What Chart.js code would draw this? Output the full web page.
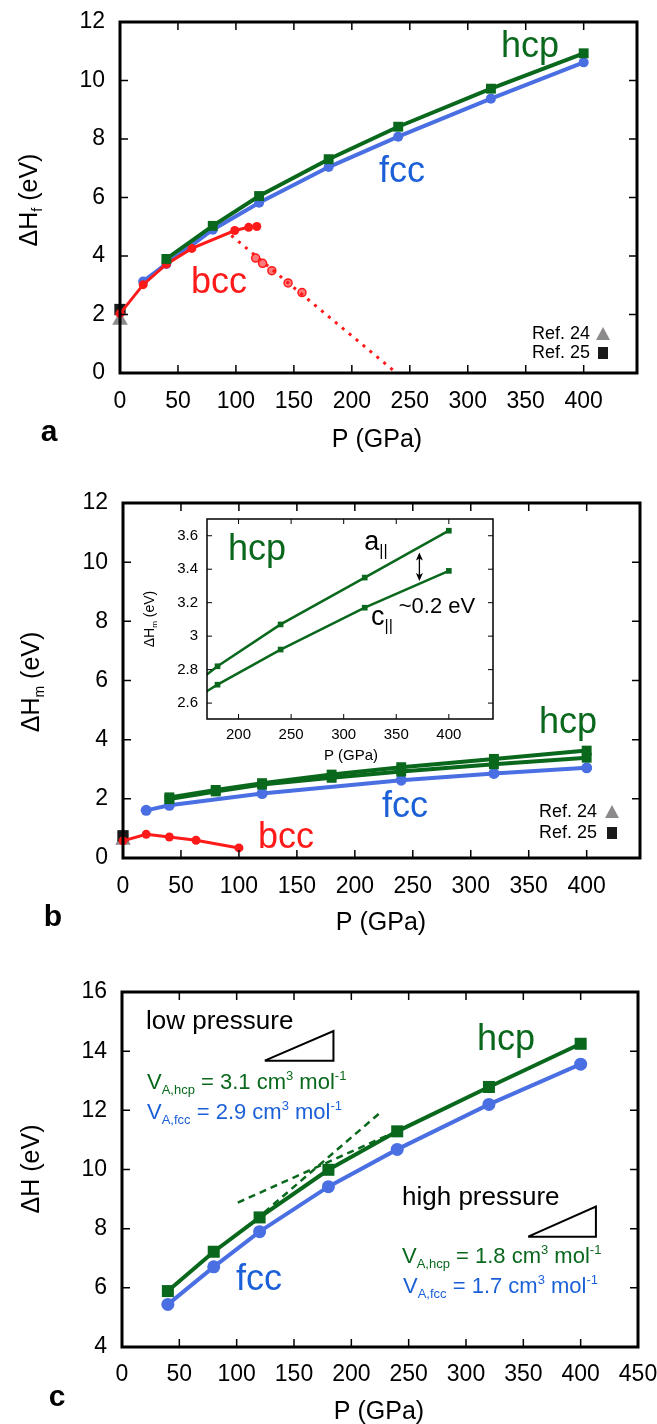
<!DOCTYPE html>
<html lang="en">
<head>
<meta charset="UTF-8" />
<title>Vacancy formation and migration enthalpies</title>
<script src="https://cdn.jsdelivr.net/npm/chart.js@4.4.0/dist/chart.umd.min.js"></script>
<style>
  body { margin: 0; background: #fff; }
  canvas { position: absolute; }
</style>
</head>
<body>
<canvas id="chartA" width="657" height="470" style="left:0;top:0"></canvas>
<canvas id="chartB" width="657" height="490" style="left:0;top:470px"></canvas>
<canvas id="chartInset" width="360" height="265" style="left:140px;top:505px"></canvas>
<canvas id="chartC" width="657" height="464" style="left:0;top:960px"></canvas>

<script>
// ---- panel a : formation enthalpy dH_f (eV) vs P (GPa)
const pA_hcp = [40, 80, 120, 180, 240, 320, 400];
const hfHcp = [3.9, 5.03, 6.05, 7.31, 8.42, 9.72, 10.93];
const pA_fcc = [20, 40, 80, 120, 180, 240, 320, 400];
const hfFcc = [3.13, 3.73, 4.9, 5.82, 7.04, 8.08, 9.38, 10.62];
const pA_bcc = [0, 20, 40, 62, 99, 111, 118];
const hfBcc = [2.03, 3.02, 3.72, 4.26, 4.87, 4.98, 5.01];
const pA_bccOpen = [117, 123, 131, 145, 157];
const hfBccOpen = [3.93, 3.75, 3.5, 3.08, 2.75];
const pA_bccTrend = [96, 237];
const hfBccTrend = [4.7, 0.05];
const hfRef24 = [1.8];
const hfRef25 = [2.17];

// ---- panel b : migration enthalpy dH_m (eV)
const pB_hcp = [40, 80, 120, 180, 240, 320, 400];
const hmHcpA = [2.05, 2.3, 2.53, 2.82, 3.07, 3.35, 3.63];
const hmHcpC = [1.99, 2.25, 2.48, 2.71, 2.92, 3.17, 3.39];
const pB_fcc = [20, 40, 120, 240, 320, 400];
const hmFcc = [1.61, 1.78, 2.18, 2.63, 2.86, 3.05];
const pB_bcc = [0, 20, 40, 63, 100];
const hmBcc = [0.58, 0.8, 0.71, 0.6, 0.34];
const hmRef24 = [0.6];
const hmRef25 = [0.75];
const arrowP = 372;
const arrowH = [3.33, 3.5];

// ---- panel c : activation enthalpy dH (eV)
const pC = [40, 80, 120, 180, 240, 320, 400];
const hHcp = [5.89, 7.22, 8.38, 9.99, 11.29, 12.79, 14.25];
const hFcc = [5.44, 6.71, 7.9, 9.42, 10.68, 12.2, 13.56];
const tanHighP = [101, 240];
const tanHighH = [8.88, 11.3];
const tanLowP = [124, 226];
const tanLowH = [8.55, 11.95];
const triLowP = [124.5, 184.4, 184.4, 124.5];
const triLowH = [13.68, 13.68, 14.68, 13.68];
const triHighP = [354.2, 413.3, 413.3, 354.2];
const triHighH = [7.73, 7.73, 8.75, 7.73];

const FONT = '"Liberation Sans", Arial, Helvetica, sans-serif';
const GREEN = '#0a681d';
const BLUE = '#4a6fe3';
const BLUE_TXT = '#1c60d8';
const RED = '#ff1a1a';
const GRAY = '#8c8a8a';

const pts = (xs, ys) => xs.map((x, i) => ({ x: x, y: ys[i] }));

function setFont(ctx, size, bold) {
  ctx.font = (bold ? 'bold ' : '') + size + 'px ' + FONT;
}

// parts: [text, 'n' | 'sub' | 'sup']
function drawRich(ctx, t) {
  const size = t.size, small = Math.round(size * 0.58);
  let w = 0;
  t.parts.forEach(p => {
    setFont(ctx, p[1] === 'n' ? size : small, t.bold);
    w += ctx.measureText(p[0]).width;
  });
  ctx.save();
  ctx.translate(t.x, t.y);
  if (t.rotate) ctx.rotate(-Math.PI / 2);
  let cx = t.align === 'left' ? 0 : (t.align === 'right' ? -w : -w / 2);
  ctx.fillStyle = t.color || '#000';
  ctx.textBaseline = 'middle';
  ctx.textAlign = 'left';
  t.parts.forEach(p => {
    setFont(ctx, p[1] === 'n' ? size : small, t.bold);
    const dy = p[1] === 'sub' ? size * 0.32 : (p[1] === 'sup' ? -size * 0.3 : 0);
    ctx.fillText(p[0], cx, dy);
    cx += ctx.measureText(p[0]).width;
  });
  ctx.restore();
}

const framePlugin = {
  id: 'frame',
  afterDatasetsDraw(chart, args, o) {
    const ctx = chart.ctx, a = chart.chartArea;
    const xs = chart.scales.x, ys = chart.scales.y;
    ctx.save();
    ctx.strokeStyle = '#000';
    ctx.lineWidth = o.tickWidth;
    ctx.beginPath();
    xs.ticks.forEach(t => {
      const px = xs.getPixelForValue(t.value);
      ctx.moveTo(px, a.bottom); ctx.lineTo(px, a.bottom - o.tickLen);
      ctx.moveTo(px, a.top); ctx.lineTo(px, a.top + o.tickLen);
    });
    ys.ticks.forEach(t => {
      const py = ys.getPixelForValue(t.value);
      ctx.moveTo(a.left, py); ctx.lineTo(a.left + o.tickLen, py);
      ctx.moveTo(a.right, py); ctx.lineTo(a.right - o.tickLen, py);
    });
    ctx.stroke();
    ctx.lineWidth = o.frameWidth;
    ctx.strokeRect(a.left, a.top, a.right - a.left, a.bottom - a.top);
    (o.texts || []).forEach(t => drawRich(ctx, t));
    if (o.extra) o.extra(chart, ctx);
    ctx.restore();
  }
};

function refLegend(ctx, xText, xMark, y1, y2) {
  drawRich(ctx, { parts: [['Ref. 24', 'n']], x: xText, y: y1, size: 18, align: 'right' });
  drawRich(ctx, { parts: [['Ref. 25', 'n']], x: xText, y: y2, size: 18, align: 'right' });
  ctx.fillStyle = GRAY;
  ctx.beginPath();
  ctx.moveTo(xMark, y1 - 7); ctx.lineTo(xMark + 7, y1 + 6); ctx.lineTo(xMark - 7, y1 + 6);
  ctx.closePath(); ctx.fill();
  ctx.fillStyle = '#1a1a1a';
  ctx.fillRect(xMark - 5, y2 - 6, 10, 12);
}

function baseOptions(o) {
  return {
    responsive: false,
    animation: false,
    devicePixelRatio: 1,
    layout: { padding: { top: o.top, right: o.right, left: 0, bottom: 0 } },
    plugins: { legend: { display: false }, tooltip: { enabled: false }, frame: o.frame },
    scales: {
      x: {
        type: 'linear', min: o.xmin, max: o.xmax,
        grid: { display: false, drawTicks: false },
        border: { display: false },
        ticks: { stepSize: o.xstep, includeBounds: false, autoSkip: false, maxRotation: 0,
                 padding: o.xpad, color: '#000', font: { family: FONT, size: o.tick } },
        // fixed box so the plot frame lands where the figure has it
        afterFit: s => { s.height = o.xh; s.paddingLeft = 0; s.paddingRight = 0; }
      },
      y: {
        type: 'linear', min: o.ymin, max: o.ymax,
        grid: { display: false, drawTicks: false },
        border: { display: false },
        ticks: { stepSize: o.ystep, includeBounds: false, autoSkip: false, padding: o.ypad,
                 color: '#000', font: { family: FONT, size: o.tick }, callback: o.ycb },
        afterFit: s => { s.width = o.yw; s.paddingTop = 0; s.paddingBottom = 0; }
      }
    }
  };
}

function lineSet(data, color, width, style, radius, extra) {
  return Object.assign({
    data: data, showLine: true, borderColor: color, backgroundColor: color,
    borderWidth: width, pointStyle: style, pointRadius: radius, pointBorderWidth: 0,
    tension: 0
  }, extra || {});
}

// ---------------- panel a
new Chart(document.getElementById('chartA'), {
  type: 'scatter',
  data: {
    datasets: [
      lineSet(pts(pA_hcp, hfHcp), GREEN, 4, 'rect', 7),
      lineSet(pts(pA_bcc, hfBcc), RED, 3, 'circle', 4.5, { clip: false }),
      lineSet(pts(pA_bccTrend, hfBccTrend), RED, 3, 'circle', 0, { borderDash: [3, 6] }),
      lineSet(pts(pA_bccOpen, hfBccOpen), RED, 0, 'circle', 4, { showLine: false, backgroundColor: '#ff7a7a', pointBorderWidth: 1.5 }),
      lineSet(pts([0], hfRef25), '#1a1a1a', 0, 'rect', 8, { showLine: false, clip: false }),
      lineSet(pts([0], hfRef24), GRAY, 0, 'triangle', 9, { showLine: false, clip: false }),
      lineSet(pts(pA_fcc, hfFcc), BLUE, 4, 'circle', 5)
    ]
  },
  options: baseOptions({
    top: 22, right: 20, xh: 97, yw: 120,
    xmin: 0, xmax: 446, xstep: 50, ymin: 0, ymax: 12, ystep: 2,
    xpad: 15, ypad: 15, tick: 23,
    frame: {
      frameWidth: 3, tickLen: 8, tickWidth: 1.5,
      texts: [
        { parts: [['ΔH', 'n'], ['f', 'sub'], [' (eV)', 'n']], x: 30, y: 200, size: 25, rotate: true },
        { parts: [['P (GPa)', 'n']], x: 377, y: 440, size: 25 },
        { parts: [['a', 'n']], x: 49, y: 433, size: 30, bold: true },
        { parts: [['hcp', 'n']], x: 530, y: 47, size: 36, color: GREEN },
        { parts: [['fcc', 'n']], x: 402, y: 172, size: 36, color: BLUE_TXT },
        { parts: [['bcc', 'n']], x: 219, y: 283, size: 36, color: RED }
      ],
      extra: (chart, ctx) => refLegend(ctx, 590, 603, 334, 353)
    }
  }),
  plugins: [framePlugin]
});

// ---------------- panel b
new Chart(document.getElementById('chartB'), {
  type: 'scatter',
  data: {
    datasets: [
      lineSet(pts(pB_hcp, hmHcpA), GREEN, 4, 'rect', 7),
      lineSet(pts(pB_hcp, hmHcpC), GREEN, 4, 'rect', 7),
      lineSet(pts(pB_bcc, hmBcc), RED, 3, 'circle', 4.5, { clip: false }),
      lineSet(pts([0], hmRef25), '#1a1a1a', 0, 'rect', 8, { showLine: false, clip: false }),
      lineSet(pts([0], hmRef24), GRAY, 0, 'triangle', 9, { showLine: false, clip: false }),
      lineSet(pts(pB_fcc, hmFcc), BLUE, 4, 'circle', 5.5)
    ]
  },
  options: baseOptions({
    top: 33, right: 17, xh: 102, yw: 123,
    xmin: 0, xmax: 446, xstep: 50, ymin: 0, ymax: 12, ystep: 2,
    xpad: 15, ypad: 15, tick: 23,
    frame: {
      frameWidth: 3, tickLen: 8, tickWidth: 1.5,
      texts: [
        { parts: [['ΔH', 'n'], ['m', 'sub'], [' (eV)', 'n']], x: 32, y: 212, size: 25, rotate: true },
        { parts: [['P (GPa)', 'n']], x: 381, y: 453, size: 25 },
        { parts: [['b', 'n']], x: 53, y: 448, size: 30, bold: true },
        { parts: [['hcp', 'n']], x: 568, y: 253, size: 36, color: GREEN },
        { parts: [['fcc', 'n']], x: 405, y: 337, size: 36, color: BLUE_TXT },
        { parts: [['bcc', 'n']], x: 286, y: 368, size: 36, color: RED }
      ],
      extra: (chart, ctx) => refLegend(ctx, 597, 612, 342, 363)
    }
  }),
  plugins: [framePlugin]
});

// ---------------- inset of panel b
new Chart(document.getElementById('chartInset'), {
  type: 'scatter',
  data: {
    datasets: [
      lineSet(pts(pB_hcp, hmHcpA), GREEN, 2.5, 'rect', 4, { clip: 0 }),
      lineSet(pts(pB_hcp, hmHcpC), GREEN, 2.5, 'rect', 4, { clip: 0 })
    ]
  },
  options: baseOptions({
    top: 14, right: 7, xh: 51, yw: 67,
    xmin: 170, xmax: 442, xstep: 50, ymin: 2.505, ymax: 3.7, ystep: 0.2,
    xpad: 7, ypad: 9, tick: 15,
    ycb: v => String(+v.toFixed(1)),
    frame: {
      frameWidth: 1.5, tickLen: 5, tickWidth: 1,
      texts: [
        { parts: [['ΔH', 'n'], ['m', 'sub'], [' (eV)', 'n']], x: 10, y: 114, size: 14, rotate: true },
        { parts: [['P (GPa)', 'n']], x: 211, y: 251, size: 15 },
        { parts: [['hcp', 'n']], x: 117, y: 45, size: 36, color: GREEN },
        { parts: [['a', 'n'], ['||', 'sub']], x: 236, y: 38, size: 27 },
        { parts: [['c', 'n'], ['||', 'sub']], x: 242, y: 113, size: 27 },
        { parts: [['~0.2 eV', 'n']], x: 297, y: 102, size: 22 }
      ],
      extra: (chart, ctx) => {
        const px = chart.scales.x.getPixelForValue(arrowP);
        const yTop = chart.scales.y.getPixelForValue(arrowH[1]);
        const yBot = chart.scales.y.getPixelForValue(arrowH[0]);
        ctx.strokeStyle = '#000';
        ctx.fillStyle = '#000';
        ctx.lineWidth = 1.3;
        ctx.beginPath(); ctx.moveTo(px, yTop + 2); ctx.lineTo(px, yBot - 2); ctx.stroke();
        ctx.beginPath();
        ctx.moveTo(px, yTop); ctx.lineTo(px - 3.5, yTop + 8); ctx.lineTo(px, yTop + 6); ctx.lineTo(px + 3.5, yTop + 8); ctx.closePath();
        ctx.moveTo(px, yBot); ctx.lineTo(px - 3.5, yBot - 8); ctx.lineTo(px, yBot - 6); ctx.lineTo(px + 3.5, yBot - 8); ctx.closePath();
        ctx.fill();
      }
    }
  }),
  plugins: [framePlugin]
});

// ---------------- panel c
const vParts = (phase, val) => [['V', 'n'], ['A,' + phase, 'sub'], [' = ' + val + ' cm', 'n'], ['3', 'sup'], [' mol', 'n'], ['-1', 'sup']];

new Chart(document.getElementById('chartC'), {
  type: 'scatter',
  data: {
    datasets: [
      lineSet(pts(tanHighP, tanHighH), GREEN, 2.5, 'circle', 0, { borderDash: [7, 5] }),
      lineSet(pts(tanLowP, tanLowH), GREEN, 2.5, 'circle', 0, { borderDash: [7, 5] }),
      lineSet(pts(pC, hHcp), GREEN, 4, 'rect', 8.5),
      lineSet(pts(pC, hFcc), BLUE, 4, 'circle', 6.5),
      lineSet(pts(triLowP, triLowH), '#000', 2, 'circle', 0),
      lineSet(pts(triHighP, triHighH), '#000', 2, 'circle', 0)
    ]
  },
  options: baseOptions({
    top: 32, right: 19, xh: 77, yw: 122,
    xmin: 0, xmax: 450, xstep: 50, ymin: 4, ymax: 16, ystep: 2,
    xpad: 14, ypad: 15, tick: 23,
    frame: {
      frameWidth: 3, tickLen: 8, tickWidth: 1.5,
      texts: [
        { parts: [['ΔH (eV)', 'n']], x: 32, y: 209, size: 25, rotate: true },
        { parts: [['P (GPa)', 'n']], x: 379, y: 452, size: 25 },
        { parts: [['c', 'n']], x: 57, y: 438, size: 30, bold: true },
        { parts: [['low pressure', 'n']], x: 146, y: 62, size: 26, align: 'left' },
        { parts: vParts('hcp', '3.1'), x: 147, y: 123, size: 22, align: 'left', color: GREEN },
        { parts: vParts('fcc', '2.9'), x: 147, y: 153, size: 22, align: 'left', color: BLUE_TXT },
        { parts: [['hcp', 'n']], x: 506, y: 80, size: 36, color: GREEN },
        { parts: [['fcc', 'n']], x: 259, y: 320, size: 36, color: BLUE_TXT },
        { parts: [['high pressure', 'n']], x: 402, y: 238, size: 26, align: 'left' },
        { parts: vParts('hcp', '1.8'), x: 402, y: 297, size: 22, align: 'left', color: GREEN },
        { parts: vParts('fcc', '1.7'), x: 403, y: 327, size: 22, align: 'left', color: BLUE_TXT }
      ]
    }
  }),
  plugins: [framePlugin]
});
</script>
</body>
</html>
